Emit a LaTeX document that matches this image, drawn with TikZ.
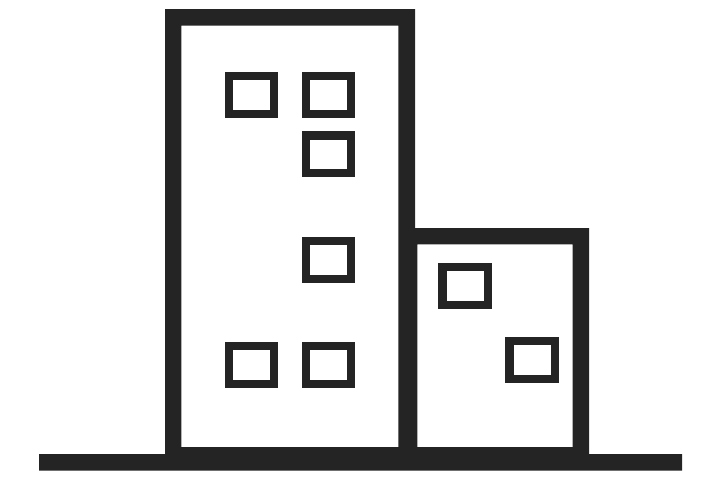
\documentclass[tikz,border=0pt]{standalone}
\usepackage{xcolor}
\usepackage{tikz}
\definecolor{wallgray}{RGB}{36,36,36}

\begin{document}
\begin{tikzpicture}[x=0.02cm, y=-0.02cm,
  window/.style={draw=wallgray, line width=0.165cm, fill=white}]
  \useasboundingbox (0,0) rectangle (720,480);
  \fill[wallgray, even odd rule]
    (39,454) -- (165,454) -- (165,9) -- (415,9) -- (415,228) -- (589,228)
    -- (589,454) -- (682,454) -- (682,470.7) -- (39,470.7) -- cycle
    (181.4,25.5) rectangle (398.4,447.2)
    (417.3,244.3) rectangle (572.7,447.2);
  \foreach \i/\j in {228.8/76.1,305.8/76.1,305.8/135.4,305.8/241,228.8/345.8,305.8/345.8,442.4/266.8,509.4/340.8} {
    \draw[window] (\i,\j) rectangle ++(45.4,37.9);
  }
\end{tikzpicture}
\end{document}
